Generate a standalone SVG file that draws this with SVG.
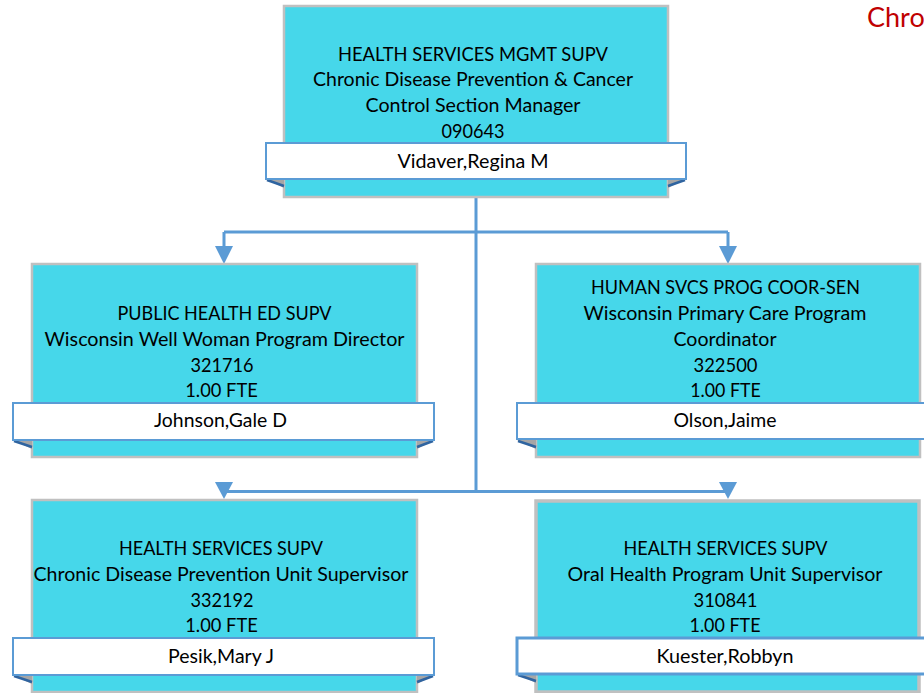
<svg xmlns="http://www.w3.org/2000/svg" width="924" height="693" viewBox="0 0 924 693">
<style>
.box{fill:#46d7ea;stroke:#c0c0c0;stroke-width:2.5}
.band{fill:#ffffff;stroke:#5b9bd5;stroke-width:2}
.fold{fill:#a6a6a6}
.foldline{stroke:#2f64a0;stroke-width:2.5;fill:none}
.t{font-family:Lato,"Liberation Sans",sans-serif;font-size:18.5px;fill:#000;text-anchor:middle}
.con{stroke:#5b9bd5;stroke-width:3;fill:none}
.ah{fill:#5b9bd5}
</style>
<rect width="924" height="693" fill="#ffffff"/>
<text x="867" y="27" style="font-family:Lato,'Liberation Sans',sans-serif;font-size:27px;fill:#c00000">Chro</text>
<g id="connectors">
<path class="con" d="M476,197 V491 M224,232 H728 M224,232 V248 M728,232 V248 M224,491.5 H728"/>
<polygon class="ah" points="215,246 233,246 224,264"/>
<polygon class="ah" points="719,246 737,246 728,264"/>
<polygon class="ah" points="215,482 233,482 224,499"/>
<polygon class="ah" points="719,482 737,482 728,499"/>
</g>
<g id="n0">
<rect class="box" x="284" y="6" width="384" height="191"/>
<polygon class="fold" points="266,179 284,179 284,188"/>
<polygon class="fold" points="686,179 668,179 668,188"/>
<line class="foldline" x1="267" y1="180" x2="284" y2="186"/>
<line class="foldline" x1="685" y1="180" x2="668" y2="186"/>
<rect class="band" x="266" y="143" width="420" height="36"/>
<text class="t" x="473" y="61" textLength="270" lengthAdjust="spacingAndGlyphs">HEALTH SERVICES MGMT SUPV</text>
<text class="t" x="473" y="86" textLength="320" lengthAdjust="spacingAndGlyphs">Chronic Disease Prevention &amp; Cancer</text>
<text class="t" x="473" y="112" textLength="215" lengthAdjust="spacingAndGlyphs">Control Section Manager</text>
<text class="t" x="473" y="138" textLength="63" lengthAdjust="spacingAndGlyphs">090643</text>
<text class="t" x="473" y="168" textLength="151" lengthAdjust="spacingAndGlyphs">Vidaver,Regina M</text>
</g>
<g id="n1">
<rect class="box" x="32" y="264" width="385" height="193"/>
<polygon class="fold" points="13,440 32,440 32,449"/>
<polygon class="fold" points="434,440 417,440 417,449"/>
<line class="foldline" x1="14" y1="441" x2="32" y2="447"/>
<line class="foldline" x1="433" y1="441" x2="417" y2="447"/>
<rect class="band" x="13" y="403" width="421" height="37"/>
<text class="t" x="224.5" y="320" textLength="214" lengthAdjust="spacingAndGlyphs">PUBLIC HEALTH ED SUPV</text>
<text class="t" x="224.5" y="346" textLength="360" lengthAdjust="spacingAndGlyphs">Wisconsin Well Woman Program Director</text>
<text class="t" x="222" y="372" textLength="63" lengthAdjust="spacingAndGlyphs">321716</text>
<text class="t" x="221.5" y="397" textLength="72.5" lengthAdjust="spacingAndGlyphs">1.00 FTE</text>
<text class="t" x="220.5" y="427" textLength="133" lengthAdjust="spacingAndGlyphs">Johnson,Gale D</text>
</g>
<g id="n2">
<rect class="box" x="536" y="264" width="384" height="193"/>
<polygon class="fold" points="517,440 536,440 536,449"/>
<line class="foldline" x1="518" y1="441" x2="536" y2="447"/>
<rect class="band" x="517" y="403" width="420" height="36"/>
<text class="t" x="725.5" y="294" textLength="269" lengthAdjust="spacingAndGlyphs">HUMAN SVCS PROG COOR-SEN</text>
<text class="t" x="725" y="320" textLength="283" lengthAdjust="spacingAndGlyphs">Wisconsin Primary Care Program</text>
<text class="t" x="725" y="346" textLength="103" lengthAdjust="spacingAndGlyphs">Coordinator</text>
<text class="t" x="725.5" y="372" textLength="64" lengthAdjust="spacingAndGlyphs">322500</text>
<text class="t" x="725.5" y="397" textLength="70.5" lengthAdjust="spacingAndGlyphs">1.00 FTE</text>
<text class="t" x="725" y="427" textLength="103" lengthAdjust="spacingAndGlyphs">Olson,Jaime</text>
</g>
<g id="n3">
<rect class="box" x="32" y="500" width="385" height="192"/>
<polygon class="fold" points="13,675 32,675 32,684"/>
<polygon class="fold" points="434,675 417,675 417,684"/>
<line class="foldline" x1="14" y1="676" x2="32" y2="682"/>
<line class="foldline" x1="433" y1="676" x2="417" y2="682"/>
<rect class="band" x="13" y="638" width="421" height="37"/>
<text class="t" x="221" y="555" textLength="204" lengthAdjust="spacingAndGlyphs">HEALTH SERVICES SUPV</text>
<text class="t" x="221" y="581" textLength="375" lengthAdjust="spacingAndGlyphs">Chronic Disease Prevention Unit Supervisor</text>
<text class="t" x="222" y="607" textLength="63" lengthAdjust="spacingAndGlyphs">332192</text>
<text class="t" x="221.5" y="632" textLength="72.5" lengthAdjust="spacingAndGlyphs">1.00 FTE</text>
<text class="t" x="221" y="663" textLength="106" lengthAdjust="spacingAndGlyphs">Pesik,Mary J</text>
</g>
<g id="n4">
<rect class="box" x="536" y="501" width="383" height="191" style="stroke-width:3.5"/>
<polygon class="fold" points="517,674 536,674 536,683"/>
<line class="foldline" x1="518" y1="675" x2="536" y2="681"/>
<rect class="band" x="517" y="638" width="420" height="36" style="stroke-width:3"/>
<text class="t" x="725.5" y="555" textLength="204" lengthAdjust="spacingAndGlyphs">HEALTH SERVICES SUPV</text>
<text class="t" x="725" y="581" textLength="315" lengthAdjust="spacingAndGlyphs">Oral Health Program Unit Supervisor</text>
<text class="t" x="725.5" y="607" textLength="64" lengthAdjust="spacingAndGlyphs">310841</text>
<text class="t" x="725" y="632" textLength="71" lengthAdjust="spacingAndGlyphs">1.00 FTE</text>
<text class="t" x="725" y="663" textLength="137" lengthAdjust="spacingAndGlyphs">Kuester,Robbyn</text>
</g>
</svg>
